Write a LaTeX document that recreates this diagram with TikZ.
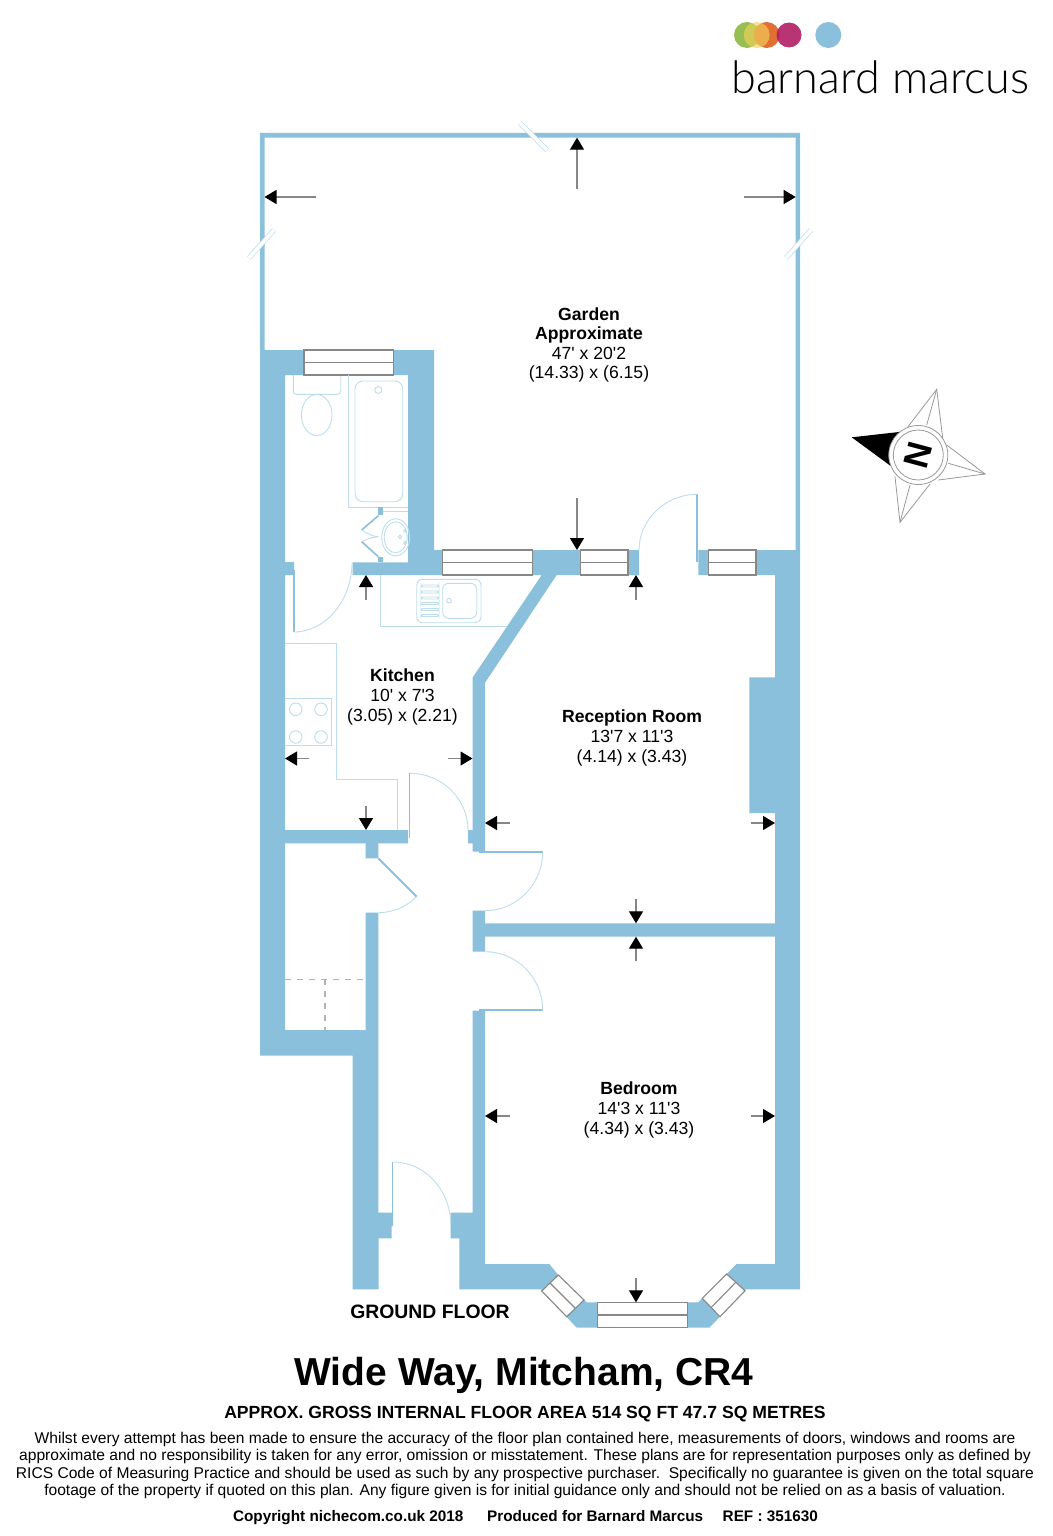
\documentclass[tikz,border=0pt]{standalone}
\usepackage{fontspec}
\setmainfont{Liberation Sans}[Ligatures=TeXOff]
\newfontfamily\logofont{Lato}[UprightFont=* Light]
\usetikzlibrary{arrows.meta}
\definecolor{wallblue}{RGB}{138,192,219}
\definecolor{fixtureblue}{RGB}{190,221,235}
\definecolor{stemgrey}{RGB}{135,135,135}
\definecolor{logogreen}{RGB}{150,190,80}
\definecolor{logoorange}{RGB}{225,110,50}
\definecolor{logoyellow}{RGB}{240,210,90}
\definecolor{logomagenta}{RGB}{178,30,100}
\tikzset{
  wall/.style={fill=wallblue, draw=none},
  fixture/.style={draw=fixtureblue, line width=.45pt},
  leaf/.style={draw=wallblue, line width=.8pt},
  swing/.style={draw=fixtureblue, line width=.45pt},
  windowbox/.style={draw=stemgrey, line width=.55pt, fill=white},
  dimarrow/.style={draw=stemgrey, line width=.6pt, -{Triangle[length=6pt,width=7pt,black]}},
  breakmark/.style={draw=fixtureblue, line width=.35pt, double=white, double distance=1.8pt},
  starline/.style={draw=black!40, line width=.4pt},
  room/.style={align=center, font=\fontsize{8.8}{9.8}\selectfont, inner sep=0pt}
}
\begin{document}
\begin{tikzpicture}[x=0.5pt,y=-0.5pt]

\useasboundingbox (0,0) rectangle (1053,1536);
\fill [white] (0,0) rectangle (1053,1536);

\fill [wall] (260,133) -- (800,133) -- (800,550) -- (795.7,550) -- (795.7,137.7) -- (264.5,137.7) -- (264.5,350) -- (260,350) -- cycle;
\fill [wall] (260,350) -- (304,350) -- (304,375) -- (285,375) -- (285,562) -- (294,562) -- (294,575) -- (285,575) -- (285,830) -- (408,830) -- (408,843.3) -- (378.3,843.3) -- (378.3,858.3) -- (365.7,858.3) -- (365.7,843.3) -- (285,843.3) -- (285,1030) -- (365.7,1030) -- (365.7,912.7) -- (378.3,912.7) -- (378.3,1212.7) -- (393,1212.7) -- (393,1226) -- (391.7,1226) -- (391.7,1238.3) -- (378.7,1238.3) -- (378.7,1289.3) -- (352.7,1289.3) -- (352.7,1055.7) -- (260,1055.7) -- cycle;
\fill [wall] (393,350) -- (434,350) -- (434,550) -- (639,550) -- (639,575) -- (556.7,575) -- (485,682.7) -- (485,851.7) -- (472.5,851.7) -- (472.5,843.3) -- (468,843.3) -- (468,830) -- (472.5,830) -- (472.5,677.7) -- (541.7,575) -- (352.7,575) -- (352.7,562.3) -- (408,562.3) -- (408,375) -- (393,375) -- cycle;
\fill [wall] (472.5,910.7) -- (485,910.7) -- (485,923.3) -- (775,923.3) -- (775,936.7) -- (485,936.7) -- (485,951.7) -- (472.5,951.7) -- cycle;
\fill [wall] (698.3,550) -- (800,550) -- (800,1289.3) -- (745,1289.3) -- (745,1290.7) -- (709.3,1327.7) -- (576.7,1327.7) -- (541.7,1291) -- (541.7,1289.3) -- (459.3,1289.3) -- (459.3,1238.3) -- (450.7,1238.3) -- (450.7,1212.7) -- (472.5,1212.7) -- (472.5,1010.7) -- (485,1010.7) -- (485,1264) -- (549.3,1264) -- (558.3,1275) -- (584,1300) -- (586.7,1302.3) -- (698.3,1302.3) -- (726.7,1274) -- (736.7,1264) -- (775,1264) -- (775,813) -- (749.3,813) -- (749.3,677.3) -- (775,677.3) -- (775,575) -- (698.3,575) -- cycle;

\draw [breakmark] (520,123) -- (547,150);
\draw [breakmark] (249,258) -- (274,230);
\draw [breakmark] (786,258) -- (811,230);

\draw [windowbox] (304,350) rectangle (393.3,375);
\draw [windowbox] (304,362.5) -- (393.3,362.5);
\draw [windowbox] (442.3,550) rectangle (532.3,575);
\draw [windowbox] (442.3,562.5) -- (532.3,562.5);
\draw [windowbox] (580.7,550) rectangle (628,575);
\draw [windowbox] (580.7,562.5) -- (628,562.5);
\draw [windowbox] (708.3,550) rectangle (756,575);
\draw [windowbox] (708.3,562.5) -- (756,562.5);
\draw [windowbox] (597.7,1302.3) rectangle (687.7,1327.7);
\draw [windowbox] (597.7,1315) -- (687.7,1315);
\draw [windowbox] (558.3,1275) -- (584,1300) -- (566.7,1316.7) -- (541.7,1291) -- cycle;
\draw [windowbox] (550,1283) -- (575.3,1308.3);
\draw [windowbox] (702.3,1298.3) -- (726.7,1274) -- (745,1290.7) -- (720,1316.7) -- cycle;
\draw [windowbox] (711.2,1307.5) -- (735.8,1282.3);

\draw [fixture] (348.3,375) -- (348.3,507.3) -- (408,507.3);
\draw [fixture, rounded corners=4pt] (355,381) rectangle (402.7,501.7);
\draw [fixture] (378.3,390) circle [radius=3.5];
\draw [fixture, rounded corners=1.5pt] (293.3,375) -- (293.3,394.3) -- (340.7,394.3) -- (340.7,375);
\draw [fixture] (316.7,415) ellipse [x radius=15.3, y radius=20.5];
\draw [stemgrey, line width=.5pt] (339,375) -- (348.3,375);

\fill [wall] (378.3,507.3) rectangle (383,515);
\fill [wall] (378.3,556.7) rectangle (383,562.3);
\draw [fixture] (383,511.7) -- (408,511.7);
\draw [leaf] (378.3,515.7) -- (361.7,530);
\draw [swing] (361.7,530) .. controls (368,534) and (373,536.5) .. (378.3,536.7);
\draw [swing] (361.7,541.7) .. controls (368,538.5) and (373,537) .. (378.3,536.7);
\draw [leaf] (361.7,541.7) -- (378.3,556.7);
\draw [fixture] (395.7,537.3) ellipse [x radius=14, y radius=18.5];
\draw [fixture] (395.7,537.3) ellipse [x radius=11.5, y radius=15.5];
\draw [fixture] (400,536.7) circle [radius=1.7];
\draw [fixture] (405,530.7) circle [radius=1.5];
\draw [fixture] (405,542.7) circle [radius=1.5];

\draw [fixture] (380,575) -- (380,626) -- (506.7,626);
\draw [fixture, rounded corners=3pt] (416.7,579.3) rectangle (481,622.7);
\draw [fixture, rounded corners=3pt] (442.7,583.3) rectangle (476.7,618.3);
\draw [fixture] (449,600.7) circle [radius=2.3];
\draw [fixture, rounded corners=1pt] (421,585) rectangle (439,587);
\draw [fixture, rounded corners=1pt] (421,591) rectangle (439,593);
\draw [fixture, rounded corners=1pt] (421,597) rectangle (439,599);
\draw [fixture, rounded corners=1pt] (421,602.5) rectangle (439,604.5);
\draw [fixture, rounded corners=1pt] (421,608.5) rectangle (439,610.5);
\draw [fixture, rounded corners=1pt] (421,614.5) rectangle (439,616.5);

\draw [fixture] (285,643.3) -- (336,643.3) -- (336,779) -- (397.7,779) -- (397.7,830);
\draw [fixture] (285,698.3) -- (331.7,698.3) -- (331.7,745.7) -- (285,745.7);
\draw [fixture] (295.7,709.3) circle [radius=6.3];
\draw [fixture] (321,709.3) circle [radius=6.3];
\draw [fixture] (295.7,737) circle [radius=6.3];
\draw [fixture] (321,737) circle [radius=6.3];

\draw [black!30, line width=.6pt, dashed] (285,979.3) -- (365.7,979.3);
\draw [black!30, line width=.6pt, dashed] (325,979.3) -- (325,1030);

\draw [leaf] (294,570) -- (294,632);
\draw [swing] (294,632) .. controls (326,632) and (352,600) .. (352,562.3);
\draw [leaf, line width=1.3pt] (697,494.3) -- (697,561.7);
\draw [swing] (697,494.3) .. controls (665,494.3) and (639,520) .. (639,550);
\draw [leaf] (409.5,773.3) -- (409.5,838);
\draw [swing] (410,773.3) .. controls (442,773.3) and (468,799) .. (468,830);
\draw [leaf] (479,851.7) -- (542.7,851.7);
\draw [swing] (542.7,851.7) .. controls (542.7,884) and (517,910.7) .. (485,910.7);
\draw [leaf] (479,1010) -- (542.7,1010);
\draw [swing] (485,951.7) .. controls (517,951.7) and (542.7,978) .. (542.7,1010);
\draw [leaf, line width=1pt] (378.3,858.3) -- (416.7,896.7);
\draw [swing] (416.7,896.7) .. controls (406,907) and (393,912.7) .. (378.3,912.7);
\draw [leaf] (392.5,1162) -- (392.5,1226);
\draw [swing] (393,1162) .. controls (425,1162) and (450.7,1190) .. (450.7,1225);

\draw [dimarrow] (316,197) -- (264.5,197);
\draw [dimarrow] (577,189) -- (577,137.7);
\draw [dimarrow] (744,197) -- (795.7,197);
\draw [dimarrow] (577,498) -- (577,550);
\draw [dimarrow] (366,599.5) -- (366,575);
\draw [dimarrow] (636,599.5) -- (636,575);
\draw [dimarrow] (309.3,758.5) -- (285,758.5);
\draw [dimarrow] (448.3,758.5) -- (472.5,758.5);
\draw [dimarrow] (366,806) -- (366,830);
\draw [dimarrow] (509.5,823) -- (485,823);
\draw [dimarrow] (750.5,823) -- (775,823);
\draw [dimarrow] (636,899) -- (636,923.3);
\draw [dimarrow] (636,961) -- (636,936.7);
\draw [dimarrow] (509.5,1116) -- (485,1116);
\draw [dimarrow] (750.5,1116) -- (775,1116);
\draw [dimarrow] (636,1278) -- (636,1302.3);

\node (gardenlabel) [room] at (589,345) {\textbf{Garden}\\\textbf{Approximate}\\47' x 20'2\\(14.33) x (6.15)};
\node (kitchenlabel) [room] at (402.5,697) {\textbf{Kitchen}\\10' x 7'3\\(3.05) x (2.21)};
\node (receptionlabel) [room] at (632,738) {\textbf{Reception Room}\\13'7 x 11'3\\(4.14) x (3.43)};
\node (bedroomlabel) [room] at (639,1110) {\textbf{Bedroom}\\14'3 x 11'3\\(4.34) x (3.43)};
\node (floorlabel) [font=\fontsize{9.7}{11}\selectfont\bfseries, inner sep=0pt] at (430,1312) {GROUND FLOOR};

\node (titlelabel) [font=\fontsize{19.5}{22}\selectfont\bfseries, inner sep=0pt] at (524,1375) {Wide Way, Mitcham, CR4};
\node (arealabel) [font=\fontsize{8.8}{10}\selectfont\bfseries, inner sep=0pt] at (525,1414) {APPROX. GROSS INTERNAL FLOOR AREA 514 SQ FT 47.7 SQ METRES};
\node (disclaimer) [align=center, font=\fontsize{7.8}{8.75}\selectfont, inner sep=0pt] at (525,1465.5) {Whilst every attempt has been made to ensure the accuracy of the floor plan contained here, measurements of doors, windows and rooms are\\approximate and no responsibility is taken for any error, omission or misstatement. These plans are for representation purposes only as defined by\\RICS Code of Measuring Practice and should be used as such by any prospective purchaser.\ \ Specifically no guarantee is given on the total square\\footage of the property if quoted on this plan. Any figure given is for initial guidance only and should not be relied on as a basis of valuation.};
\node (copyright) [font=\fontsize{7.65}{9}\selectfont\bfseries, inner sep=0pt] at (525.5,1518) {Copyright nichecom.co.uk 2018\quad\ \ Produced for Barnard Marcus\quad\ REF : 351630};

\fill [black] (851.7,437.3) -- (901.7,431.7) -- (891.7,466.7) -- cycle;
\draw [starline] (908,426.7) -- (936.7,389.3) -- (942.7,438.3);
\draw [starline] (936.7,389.3) -- (926.7,425);
\draw [starline] (946.7,445) -- (985,474) -- (938.3,480);
\draw [starline] (985,474) -- (948.3,463.3);
\draw [starline] (895,476.7) -- (900,522.3) -- (930,484);
\draw [starline] (900,522.3) -- (910,485);
\draw [starline, fill=white] (918.3,455) circle [radius=29.5];
\draw [starline, fill=white] (918.3,455) circle [radius=25];
\node (northlabel) [font=\fontsize{17.5}{18}\selectfont\bfseries, rotate=75, inner sep=0pt] at (918.3,455) {N};

\fill [logogreen] (747,35) circle [radius=13];
\fill [logoorange] (766.7,35) circle [radius=13];
\fill [logoyellow, opacity=.65] (756.7,35) circle [radius=13];
\fill [logomagenta, opacity=.9] (789,35) circle [radius=12.5];
\fill [wallblue] (828.3,35) circle [radius=13];
\node (logotext) [font=\fontsize{22.5}{24}\selectfont\logofont, text=black, inner sep=0pt] at (880.5,77) {barnard marcus};

\end{tikzpicture}
\end{document}
